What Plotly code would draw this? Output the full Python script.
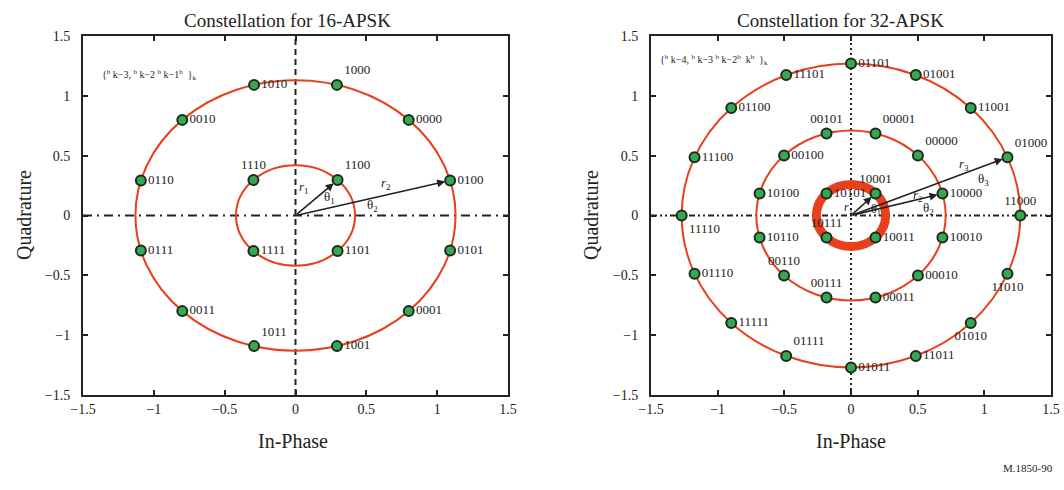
import numpy as np
import plotly.graph_objects as go

# ---------------- data ----------------
# 16-APSK (4+12)
apsk16_inner_r = 0.42
apsk16_outer_r = 1.13
apsk16_inner_ang = [45, 135, 225, 315]
apsk16_inner_lbl = ["1100", "1110", "1111", "1101"]
apsk16_inner_pos = ["top right", "top center", "middle right", "middle right"]
apsk16_outer_ang = [15, 45, 75, 105, 135, 165, 195, 225, 255, 285, 315, 345]
apsk16_outer_lbl = ["0100", "0000", "1000", "1010", "0010", "0110",
                    "0111", "0011", "1011", "1001", "0001", "0101"]
apsk16_outer_pos = ["middle right", "middle right", "top right", "middle right",
                    "middle right", "middle right", "middle right", "middle right",
                    "top right", "middle right", "middle right", "middle right"]

# 32-APSK (4+12+16)
apsk32_r1 = 0.26
apsk32_r2 = 0.71
apsk32_r3 = 1.27
apsk32_ring1_ang = [45, 135, 225, 315]
apsk32_ring1_lbl = ["10001", "10101", "10111", "10011"]
apsk32_ring1_pos = ["top center", "middle right", "top center", "middle right"]
apsk32_ring2_ang = [15, 45, 75, 105, 135, 165, 195, 225, 255, 285, 315, 345]
apsk32_ring2_lbl = ["10000", "00000", "00001", "00101", "00100", "10100",
                    "10110", "00110", "00111", "00011", "00010", "10010"]
apsk32_ring2_pos = ["middle right", "top right", "top right", "top center",
                    "middle right", "middle right", "middle right", "top center",
                    "top center", "middle right", "middle right", "middle right"]
apsk32_ring3_ang = [0, 22.5, 45, 67.5, 90, 112.5, 135, 157.5,
                    180, 202.5, 225, 247.5, 270, 292.5, 315, 337.5]
apsk32_ring3_lbl = ["11000", "01000", "11001", "01001", "01101", "11101", "01100", "11100",
                    "11110", "01110", "11111", "01111", "01011", "11011", "01010", "11010"]
apsk32_ring3_pos = ["top center", "top right", "middle right", "middle right",
                    "middle right", "middle right", "middle right", "middle right",
                    "bottom right", "middle right", "middle right", "top right",
                    "middle right", "middle right", "bottom center", "bottom center"]

tick_vals = [-1.5, -1, -0.5, 0, 0.5, 1, 1.5]
tick_text = ["\u22121.5", "\u22121", "\u22120.5", "0", "0.5", "1", "1.5"]

# ---------------- styles ----------------
RING = "#e8401c"
GREEN = "#35a854"
EDGE = "#1f2a1f"
TXT = "#222222"
FONT = "Liberation Serif"
MSIZE = 10

W, H = 1064, 490
def px(x): return x / W
def py(y): return 1 - y / H

def pts(r, angs):
    a = np.deg2rad(np.array(angs, dtype=float))
    return r * np.cos(a), r * np.sin(a)

fig = go.Figure()

def add_ring_points(r, angs, lbls, poss, xa, ya):
    x, y = pts(r, angs)
    fig.add_trace(go.Scatter(x=x, y=y, mode="markers+text", text=lbls, textposition=poss,
                             marker=dict(size=MSIZE, color="rgba(0,0,0,0)"),
                             textfont=dict(family=FONT, size=13, color=TXT),
                             xaxis=xa, yaxis=ya, showlegend=False, hoverinfo="skip",
                             cliponaxis=False))
    return x, y

# 16-APSK
xs, ys = [], []
for r, a, l, p in [(apsk16_inner_r, apsk16_inner_ang, apsk16_inner_lbl, apsk16_inner_pos),
                   (apsk16_outer_r, apsk16_outer_ang, apsk16_outer_lbl, apsk16_outer_pos)]:
    x, y = add_ring_points(r, a, l, p, "x", "y")
    xs += list(x); ys += list(y)
fig.add_trace(go.Scatter(x=xs, y=ys, mode="markers", xaxis="x", yaxis="y",
                         marker=dict(size=MSIZE, color=GREEN, line=dict(color=EDGE, width=2)),
                         showlegend=False))

# 32-APSK
xs, ys = [], []
for r, a, l, p in [(apsk32_r1, apsk32_ring1_ang, apsk32_ring1_lbl, apsk32_ring1_pos),
                   (apsk32_r2, apsk32_ring2_ang, apsk32_ring2_lbl, apsk32_ring2_pos),
                   (apsk32_r3, apsk32_ring3_ang, apsk32_ring3_lbl, apsk32_ring3_pos)]:
    x, y = add_ring_points(r, a, l, p, "x2", "y2")
    xs += list(x); ys += list(y)
fig.add_trace(go.Scatter(x=xs, y=ys, mode="markers", xaxis="x2", yaxis="y2",
                         marker=dict(size=MSIZE, color=GREEN, line=dict(color=EDGE, width=2)),
                         showlegend=False))

shapes = []
# axis cross lines
shapes.append(dict(type="line", xref="x", yref="y", x0=0, x1=0, y0=-1.5, y1=1.5,
                   line=dict(color="#222", width=2, dash="6px,4px"), layer="below"))
shapes.append(dict(type="line", xref="x", yref="y", x0=-1.5, x1=1.5, y0=0, y1=0,
                   line=dict(color="#222", width=2, dash="9px,5px,2px,5px"), layer="below"))
shapes.append(dict(type="line", xref="x2", yref="y2", x0=0, x1=0, y0=-1.5, y1=1.5,
                   line=dict(color="#222", width=2, dash="2px,3px"), layer="below"))
shapes.append(dict(type="line", xref="x2", yref="y2", x0=-1.5, x1=1.5, y0=0, y1=0,
                   line=dict(color="#222", width=2, dash="6px,3px,2px,3px,2px,3px"), layer="below"))
# rings
for r in [apsk16_inner_r, apsk16_outer_r]:
    shapes.append(dict(type="circle", xref="x", yref="y", x0=-r, x1=r, y0=-r, y1=r,
                       line=dict(color=RING, width=2), layer="below"))
for r, w in [(apsk32_r1, 9), (apsk32_r2, 2), (apsk32_r3, 2)]:
    shapes.append(dict(type="circle", xref="x2", yref="y2", x0=-r, x1=r, y0=-r, y1=r,
                       line=dict(color=RING, width=w), layer="below"))

ann = []
def arrow(xa, ya, x, y):
    ann.append(dict(xref=xa, yref=ya, axref=xa, ayref=ya, x=x, y=y, ax=0, ay=0,
                    showarrow=True, arrowhead=2, arrowsize=1, arrowwidth=1.6,
                    arrowcolor="#222", standoff=5, text=""))

x, y = pts(apsk16_inner_r, [45]); arrow("x", "y", x[0], y[0])
x, y = pts(apsk16_outer_r, [15]); arrow("x", "y", x[0], y[0])
x, y = pts(apsk32_r1, [45]); arrow("x2", "y2", x[0], y[0])
x, y = pts(apsk32_r2, [15]); arrow("x2", "y2", x[0], y[0])
x, y = pts(apsk32_r3, [22.5]); arrow("x2", "y2", x[0], y[0])

def dtext(xa, ya, x, y, t, size=13):
    ann.append(dict(xref=xa, yref=ya, x=x, y=y, text=t, showarrow=False,
                    font=dict(family=FONT, size=size, color=TXT)))

dtext("x", "y", 0.06, 0.23, "<i>r</i><sub>1</sub>")
dtext("x", "y", 0.24, 0.15, "θ<sub>1</sub>")
dtext("x", "y", 0.64, 0.27, "<i>r</i><sub>2</sub>")
dtext("x", "y", 0.54, 0.08, "θ<sub>2</sub>")
dtext("x2", "y2", -0.02, 0.06, "<i>r</i><sub>1</sub>", 12)
dtext("x2", "y2", 0.19, 0.05, "θ<sub>1</sub>", 12)
dtext("x2", "y2", 0.50, 0.17, "<i>r</i><sub>2</sub>")
dtext("x2", "y2", 0.58, 0.06, "θ<sub>2</sub>")
dtext("x2", "y2", 0.85, 0.43, "<i>r</i><sub>3</sub>")
dtext("x2", "y2", 0.99, 0.30, "θ<sub>3</sub>")

def ptext(x, y, t, size, angle=0, xanchor="center"):
    ann.append(dict(xref="paper", yref="paper", x=px(x), y=py(y), text=t, showarrow=False,
                    textangle=angle, xanchor=xanchor, yanchor="middle",
                    font=dict(family=FONT, size=size, color=TXT)))

ptext(287, 20, "Constellation for 16-APSK", 19)
ptext(840, 20, "Constellation for 32-APSK", 19)
ptext(293, 441, "In-Phase", 20)
ptext(851, 441, "In-Phase", 20)
ptext(24, 215, "Quadrature", 20, -90)
ptext(591, 215, "Quadrature", 20, -90)
ptext(100, 75, "{<sup>b</sup> k\u22123, <sup>b</sup> k\u22122 <sup>b</sup> k\u22121<sup>b</sup>  }<sub>k</sub>", 10, xanchor="left")
ptext(658, 60, "{<sup>b</sup> k\u22124, <sup>b</sup> k\u22123 <sup>b</sup> k\u22122<sup>b</sup>  k<sup>b</sup>  }<sub>k</sub>", 10, xanchor="left")
ptext(1055, 468, "M.1850-90", 11, xanchor="right")

ax_common = dict(range=[-1.5, 1.5], tickvals=tick_vals, ticktext=tick_text,
                 ticks="inside", ticklen=5, tickwidth=1.5, tickcolor="#222",
                 showline=True, linecolor="#222", linewidth=2, mirror="ticks",
                 showgrid=False, zeroline=False, fixedrange=True, automargin=False,
                 tickfont=dict(family=FONT, size=14, color=TXT))

fig.update_layout(
    width=W, height=H, margin=dict(l=0, r=0, t=0, b=0),
    paper_bgcolor="white", plot_bgcolor="white", showlegend=False,
    xaxis=dict(domain=[px(83), px(508)], anchor="y", **ax_common),
    yaxis=dict(domain=[py(395), py(36)], anchor="x", ticklabelstandoff=8, **ax_common),
    xaxis2=dict(domain=[px(651), px(1051)], anchor="y2", **ax_common),
    yaxis2=dict(domain=[py(395), py(36)], anchor="x2", ticklabelstandoff=8, **ax_common),
    shapes=shapes, annotations=ann,
)

fig.write_html("out.html", config={"displayModeBar": False},
               post_script="document.body.style.margin='0px';document.body.style.overflow='hidden';")
